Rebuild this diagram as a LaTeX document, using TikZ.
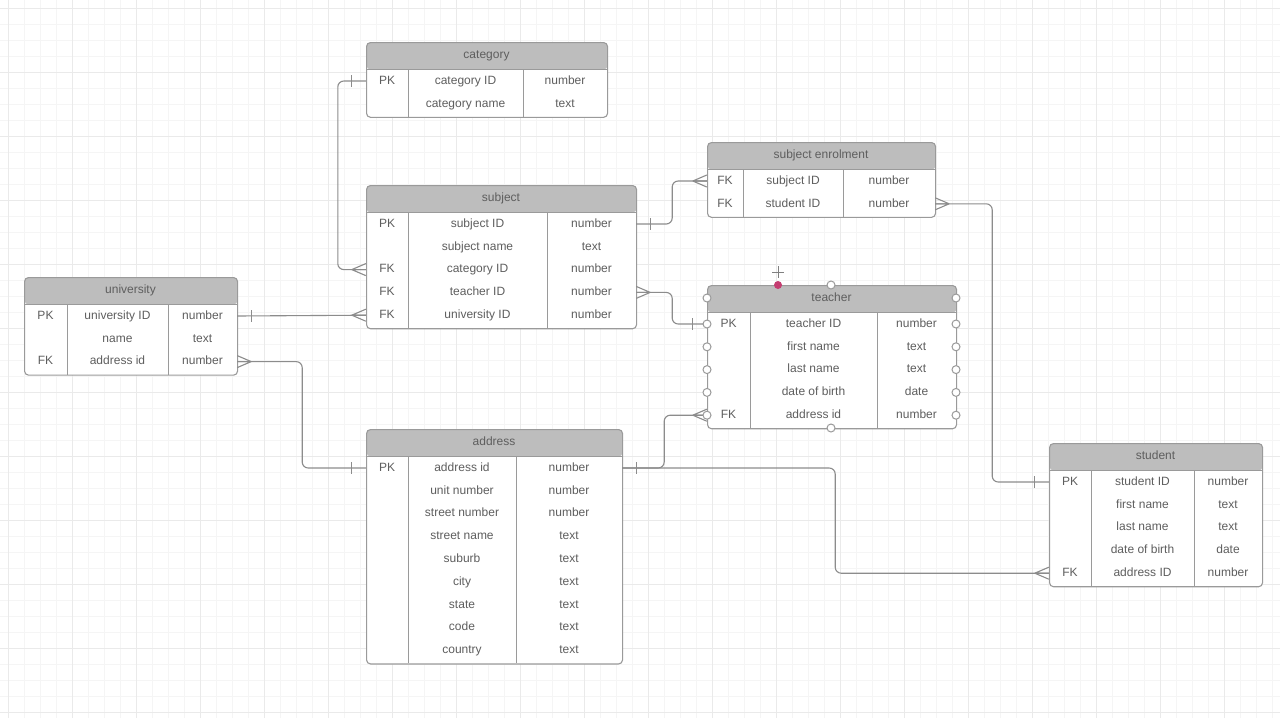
\documentclass[tikz,border=0pt]{standalone}
\usepackage{fontspec}
\setmainfont{Liberation Sans}
\definecolor{hdr}{HTML}{BDBDBD}
\definecolor{edgegray}{HTML}{9A9A9A}
\definecolor{txt}{HTML}{5E5E5E}
\definecolor{conngray}{HTML}{8C8C8C}
\definecolor{pinkdot}{HTML}{C43C70}
\definecolor{gridminor}{HTML}{F5F5F5}
\definecolor{gridmajor}{HTML}{EAEAEA}
\tikzset{
  tbl/.style={draw=edgegray, line width=1.1pt, fill=white, rounded corners=4pt, inner sep=0pt, anchor=north west},
  divline/.style={draw=edgegray, line width=1pt},
  cell/.style={text=txt, font=\fontsize{12}{14}\selectfont, inner sep=0pt, anchor=center, text height=9pt, text depth=2.5pt},
  rowbox/.style={inner sep=0pt, minimum height=22.8pt},
  link/.style={draw=conngray, line width=1.1pt, rounded corners=6pt},
  handle/.style={circle, draw=edgegray, fill=white, line width=1pt, inner sep=0pt, minimum size=8pt},
  minorln/.style={draw=gridminor, line width=0.5pt},
  majorln/.style={draw=gridmajor, line width=0.6pt},
}
\newcommand\ertable[9]{%
  \pgfmathsetmacro\tabW{#3-#2}%
  \pgfmathsetmacro\tabH{27+12+22.8*(#8-1)+13}%
  \pgfmathsetmacro\tabHB{#4+27}%
  \pgfmathsetmacro\tabYB{#4+\tabH}%
  \node[tbl, minimum width=\tabW pt, minimum height=\tabH pt,
    path picture={\fill[hdr] (path picture bounding box.north west) rectangle ([yshift=-27pt]path picture bounding box.north east);}] (#1) at (#2,#4) {};
  \draw[divline] (#2,\tabHB) -- (#3,\tabHB);
  \draw[divline] (#5,\tabHB) -- (#5,\tabYB);
  \draw[divline] (#6,\tabHB) -- (#6,\tabYB);
  \node[cell] (#1-title) at ({(#2+#3)/2},{#4+13.5}) {#7};
  \foreach \colA/\colB/\colC [count=\i] in {#9} {
    \pgfmathsetmacro\rowY{\tabHB+12+22.8*(\i-1)}
    \node[rowbox, minimum width=\tabW pt] (#1-\i) at ({(#2+#3)/2},\rowY) {};
    \node[cell] (#1-\i-k) at ({(#2+#5)/2},\rowY) {\colA};
    \node[cell] (#1-\i-f) at ({(#5+#6)/2},\rowY) {\colB};
    \node[cell] (#1-\i-t) at ({(#6+#3)/2},\rowY) {\colC};
  }%
}
\newcommand\crowft[2]{\draw[link, rounded corners=0pt] ([xshift=#2*14pt]#1) -- ([yshift=6pt]#1) ([xshift=#2*14pt]#1) -- (#1) ([xshift=#2*14pt]#1) -- ([yshift=-6pt]#1);}
\newcommand\onebar[2]{\draw[link, rounded corners=0pt] ([xshift=#2*14pt,yshift=6pt]#1) -- ([xshift=#2*14pt,yshift=-6pt]#1);}
\begin{document}
\begin{tikzpicture}[x=1pt,y=-1pt]
\useasboundingbox (0,0) rectangle (1280,718);
\fill[white] (0,0) rectangle (1280,718);
% grid
\foreach \g in {8,24,...,1280} \draw[minorln] (\g,0) -- (\g,718);
\foreach \g in {8,24,...,718} \draw[minorln] (0,\g) -- (1280,\g);
\foreach \g in {8,72,...,1280} \draw[majorln] (\g,0) -- (\g,718);
\foreach \g in {8,72,...,718} \draw[majorln] (0,\g) -- (1280,\g);

% tables
\ertable{category}{366}{607}{42}{408}{523}{category}{2}{PK/category ID/number, /category name/text}
\ertable{subject}{366}{636}{185}{408}{547}{subject}{5}{PK/subject ID/number, /subject name/text, FK/category ID/number, FK/teacher ID/number, FK/university ID/number}
\ertable{enrol}{707}{935}{142}{743}{843}{subject enrolment}{2}{FK/subject ID/number, FK/student ID/number}
\ertable{university}{24}{237}{277}{67}{168}{university}{3}{PK/university ID/number, /name/text, FK/address id/number}
\ertable{teacher}{707}{956}{285}{750}{877}{teacher}{5}{PK/teacher ID/number, /first name/text, /last name/text, /date of birth/date, FK/address id/number}
\ertable{address}{366}{622}{429}{408}{516}{address}{9}{PK/address id/number, /unit number/number, /street number/number, /street name/text, /suburb/text, /city/text, /state/text, /code/text, /country/text}
\ertable{student}{1049}{1262}{443}{1091}{1194}{student}{5}{PK/student ID/number, /first name/text, /last name/text, /date of birth/date, FK/address ID/number}

% connectors
\draw[link] (category-1.west) -- ++(-28,0) |- (subject-3.west);
\draw[link] (subject-1.east) -- ++(36,0) |- (enrol-1.west);
\draw[link] (enrol-2.east) -- ++(57,0) |- (student-1.west);
\draw[link] (subject-4.east) -- ++(36,0) |- (teacher-1.west);
\draw[link] (university-1.east) -- (subject-5.west);
\draw[link] (university-3.east) -- ++(65,0) |- (address-1.west);
\draw[link] (address-1.east) -- ++(42,0) |- (teacher-5.west);
\draw[link] (address-1.east) -- ++(213,0) |- (student-5.west);

% crow's feet
\crowft{subject-3.west}{-1}
\crowft{enrol-1.west}{-1}
\crowft{enrol-2.east}{1}
\crowft{subject-4.east}{1}
\crowft{subject-5.west}{-1}
\crowft{university-3.east}{1}
\crowft{teacher-5.west}{-1}
\crowft{student-5.west}{-1}
% single bars
\onebar{category-1.west}{-1}
\onebar{subject-1.east}{1}
\onebar{student-1.west}{-1}
\onebar{teacher-1.west}{-1}
\onebar{university-1.east}{1}
\onebar{address-1.west}{-1}
\onebar{address-1.east}{1}

% selection handles on teacher
\foreach \yy [count=\j] in {298,324,346.8,369.6,392.4,415.2} {
  \node[handle] (hl\j) at (707,\yy) {};
  \node[handle] (hr\j) at (956,\yy) {};
}
\node[handle] (htop) at (831,285) {};
\node[handle] (hbottom) at (831,428) {};
\node[circle, fill=pinkdot, inner sep=0pt, minimum size=8pt] (seldot) at (778,285) {};
\draw[draw=gray, line width=0.9pt] (778,266) -- (778,278) (772,272) -- (784,272);
\end{tikzpicture}
\end{document}
